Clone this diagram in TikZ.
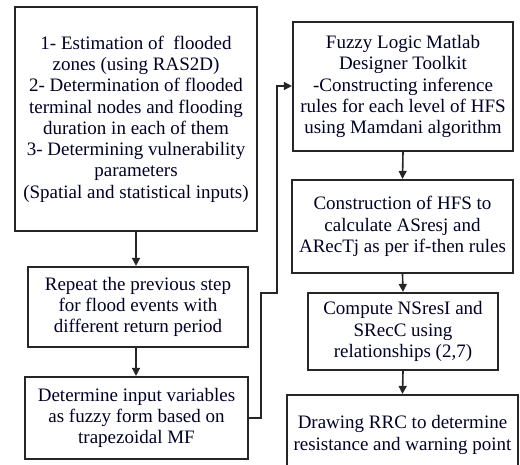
\documentclass[tikz,border=0pt]{standalone}
\usepackage{fontspec}
\setmainfont{Liberation Serif}
\usetikzlibrary{arrows.meta,positioning,calc}
\begin{document}
\begin{tikzpicture}[x=1pt,y=-1pt,
  fbox/.style={draw=black!85,line width=2.2pt,align=center,inner sep=0pt,
    font=\fontsize{19}{21.3}\selectfont,text=black!85!blue},
  conn/.style={line width=1.6pt,draw=black!85,-{Triangle[length=8pt,width=8pt]}},
  plain/.style={line width=1.6pt}]
\useasboundingbox (0,0) rectangle (520,464);
\node[fbox,minimum width=242pt,minimum height=224pt] (b1) at (136,119)
 {1- Estimation of \ flooded\\zones (using RAS2D)\\2- Determination of flooded\\terminal nodes and flooding\\duration in each of them\\3- Determining vulnerability\\parameters\\(Spatial and statistical inputs)};
\node[fbox,minimum width=220pt,minimum height=80pt] (b2) at (138,307)
 {Repeat the previous step\\for flood events with\\different return period};
\node[fbox,minimum width=223pt,minimum height=82pt] (b3) at (136.5,418)
 {Determine input variables\\as fuzzy form based on\\trapezoidal MF};
\node[fbox,minimum width=220pt,minimum height=129pt] (r1) at (403,86.5)
 {Fuzzy Logic Matlab\\Designer Toolkit\\-Constructing inference\\rules for each level of HFS\\using Mamdani algorithm};
\node[fbox,minimum width=221pt,minimum height=93pt] (r2) at (402.5,226.5)
 {Construction of HFS to\\calculate ASresj and\\ARecTj as per if-then rules};
\node[fbox,minimum width=190pt,minimum height=77pt] (r3) at (403,331.5)
 {Compute NSresI and\\SRecC using\\relationships (2,7)};
\node[fbox,minimum width=231pt,minimum height=80pt] (r4) at (402.5,435)
 {Drawing RRC to determine\\resistance and warning point};
\draw[conn] (b1.south -| 136,0) -- (b2.north -| 136,0);
\draw[conn] (b2.south -| 136,0) -- (b3.north -| 136,0);
\draw[conn] (r1.south) -- (r2.north);
\draw[conn] (r2.south) -- (r3.north);
\draw[conn] (r3.south) -- (r4.north);
\coordinate (c1) at (261,418);
\coordinate (c2) at (261,293);
\coordinate (c3) at (277,293);
\coordinate (c4) at (277,86);
\draw[conn] (b3.east) -- (c1) -- (c2) -- (c3) -- (c4) -- (r1.west |- c4);
\end{tikzpicture}
\end{document}
